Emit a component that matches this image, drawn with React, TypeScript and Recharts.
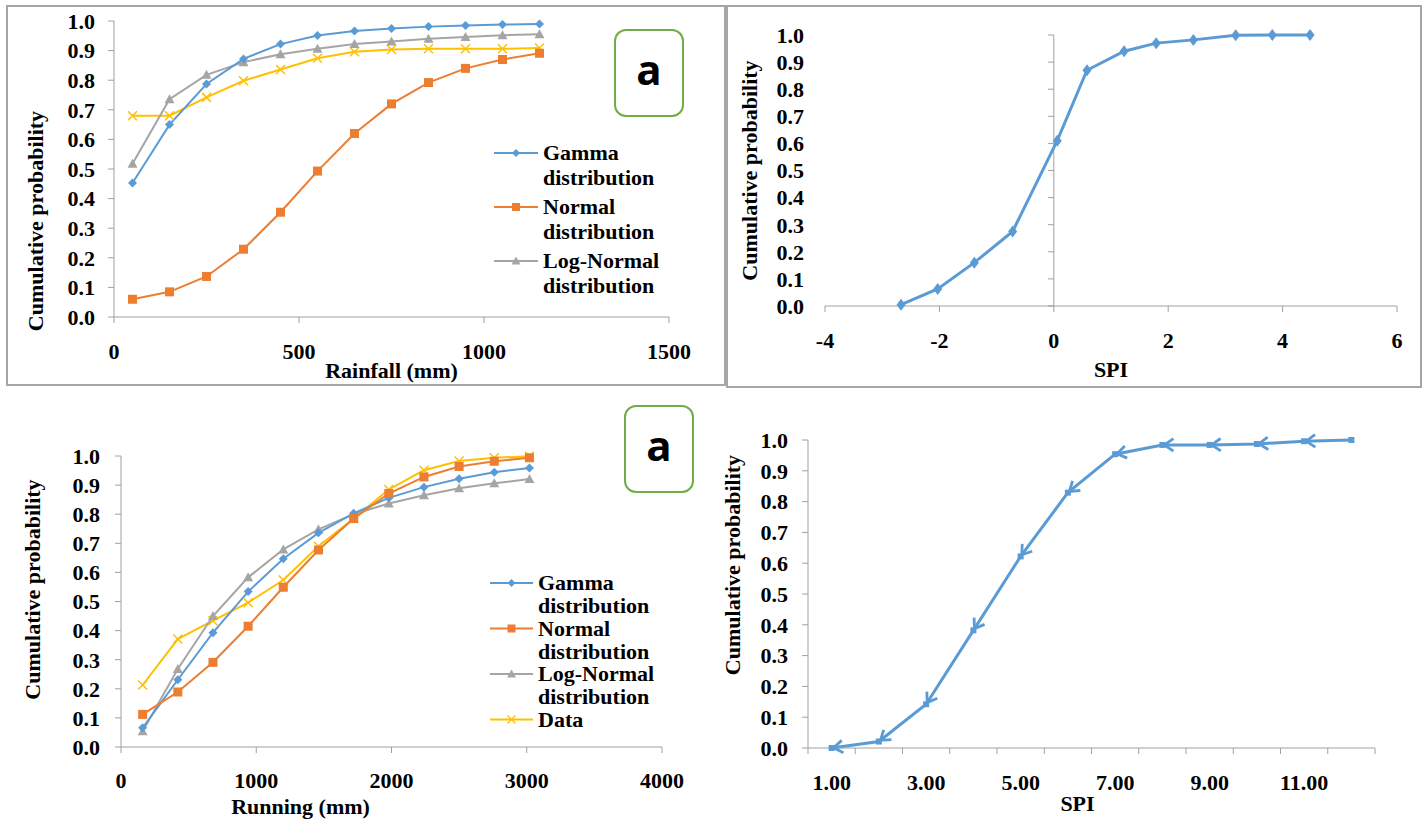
import { LineChart, Line, XAxis, YAxis, Legend, ReferenceLine } from 'recharts'

const FONT = "'Liberation Serif', 'Times New Roman', serif"
const AXIS = '#a0a0a0'
const BLUE = '#5b9bd5'
const ORANGE = '#ed7d31'
const GRAY = '#a5a5a5'
const YELLOW = '#ffc000'

// panel 1 (top left): rainfall
const rainfall = [50, 150, 250, 350, 450, 550, 650, 750, 850, 950, 1050, 1150]
const gammaRain = [0.453, 0.65, 0.787, 0.872, 0.922, 0.951, 0.966, 0.975, 0.981, 0.985, 0.988, 0.99]
const normalRain = [0.06, 0.085, 0.137, 0.229, 0.354, 0.493, 0.62, 0.72, 0.792, 0.84, 0.87, 0.891]
const logNormalRain = [0.518, 0.736, 0.818, 0.861, 0.888, 0.906, 0.922, 0.931, 0.94, 0.946, 0.952, 0.955]
const dataRain = [0.68, 0.68, 0.742, 0.798, 0.836, 0.874, 0.896, 0.904, 0.906, 0.906, 0.906, 0.909]
const rainTicks = [0, 500, 1000, 1500]

// panel 2 (top right): SPI
const spiTop = [-2.67, -2.03, -1.39, -0.72, 0.06, 0.58, 1.23, 1.79, 2.44, 3.18, 3.82, 4.48]
const probTop = [0.005, 0.063, 0.16, 0.275, 0.61, 0.87, 0.94, 0.97, 0.982, 0.999, 1.0, 1.0]
const spiTicks = [-4, -2, 0, 2, 4, 6]

// panel 3 (bottom left): running
const running = [160, 420, 680, 940, 1200, 1460, 1720, 1980, 2240, 2500, 2760, 3020]
const gammaRun = [0.066, 0.231, 0.393, 0.534, 0.647, 0.736, 0.803, 0.856, 0.893, 0.922, 0.944, 0.959]
const normalRun = [0.112, 0.189, 0.291, 0.415, 0.549, 0.677, 0.785, 0.871, 0.928, 0.964, 0.982, 0.994]
const logNormalRun = [0.054, 0.268, 0.45, 0.583, 0.679, 0.748, 0.8, 0.837, 0.865, 0.889, 0.906, 0.921]
const dataRun = [0.213, 0.371, 0.434, 0.496, 0.574, 0.69, 0.785, 0.885, 0.951, 0.983, 0.994, 0.999]
const runTicks = [0, 1000, 2000, 3000, 4000]

// panel 4 (bottom right): SPI categories
const spiCat = [1, 2, 3, 4, 5, 6, 7, 8, 9, 10, 11, 12]
const probBottom = [0.0, 0.021, 0.142, 0.382, 0.622, 0.829, 0.954, 0.984, 0.984, 0.987, 0.996, 1.0]
const catBounds = [0.5, 1.5, 2.5, 3.5, 4.5, 5.5, 6.5, 7.5, 8.5, 9.5, 10.5, 11.5, 12.5]
const catLabels = [1, 3, 5, 7, 9, 11]

const probTicks = [0, 0.1, 0.2, 0.3, 0.4, 0.5, 0.6, 0.7, 0.8, 0.9, 1.0]

const rainRows = rainfall.map((x, i) => ({ x, gamma: gammaRain[i], normal: normalRain[i], logn: logNormalRain[i], data: dataRain[i] }))
const runRows = running.map((x, i) => ({ x, gamma: gammaRun[i], normal: normalRun[i], logn: logNormalRun[i], data: dataRun[i] }))
const spiRows = spiTop.map((x, i) => ({ x, p: probTop[i] }))
const catRows = spiCat.map((x, i) => ({ x, p: probBottom[i] }))
const catTicks = [...catBounds, ...catLabels].sort((a, b) => a - b)

const tickStyle = { fontSize: 22, fontWeight: 700, fill: '#000', fontFamily: FONT }
const titleStyle = { fontSize: 22, fontWeight: 700, fill: '#000', fontFamily: FONT }

type Kind = 'diamond' | 'square' | 'triangle' | 'cross'

function mark(kind: Kind, cx: number, cy: number, color: string, s = 4.5) {
  if (kind === 'diamond') return <path d={`M${cx},${cy - s}L${cx + s},${cy}L${cx},${cy + s}L${cx - s},${cy}Z`} fill={color} />
  if (kind === 'square') return <rect x={cx - s} y={cy - s} width={2 * s} height={2 * s} fill={color} />
  if (kind === 'triangle') return <path d={`M${cx},${cy - s - 0.5}L${cx + s + 0.5},${cy + s - 0.5}L${cx - s - 0.5},${cy + s - 0.5}Z`} fill={color} />
  return (
    <g stroke={color} strokeWidth={1.5}>
      <line x1={cx - s} y1={cy - s} x2={cx + s} y2={cy + s} />
      <line x1={cx - s} y1={cy + s} x2={cx + s} y2={cy - s} />
    </g>
  )
}

const dotOf = (kind: Kind, color: string) => (p: any) => {
  if (p.cx == null || p.cy == null) return <g key={p.index} />
  return <g key={p.index}>{mark(kind, p.cx, p.cy, color)}</g>
}

const spiDot = (p: any) => {
  const { cx, cy, index } = p
  if (cx == null || cy == null) return <g key={index} />
  return <path key={index} d={`M${cx},${cy - 6}L${cx + 4.5},${cy}L${cx},${cy + 6}L${cx - 4.5},${cy}Z`} fill={BLUE} />
}

// square + chevron pointing back at the point (Excel arrow style)
const arrowDot = (p: any) => {
  const { cx, cy, index, points } = p
  if (cx == null || cy == null) return <g key={index} />
  const nxt = points && points[index + 1]
  let arrow = null
  if (!points || nxt) {
    let dx = 1, dy = 0
    if (nxt) {
      const len = Math.hypot(nxt.x - cx, nxt.y - cy) || 1
      dx = (nxt.x - cx) / len
      dy = (nxt.y - cy) / len
    }
    const tx = cx + dx * 2, ty = cy + dy * 2
    const a = 0.6, L = 11
    const r1x = dx * Math.cos(a) - dy * Math.sin(a), r1y = dx * Math.sin(a) + dy * Math.cos(a)
    const r2x = dx * Math.cos(-a) - dy * Math.sin(-a), r2y = dx * Math.sin(-a) + dy * Math.cos(-a)
    arrow = <path d={`M${tx + r1x * L},${ty + r1y * L}L${tx},${ty}L${tx + r2x * L},${ty + r2y * L}`} fill="none" stroke={BLUE} strokeWidth={2.8} />
  }
  return (
    <g key={index}>
      <rect x={cx - 3} y={cy - 3} width={6} height={6} fill={BLUE} />
      {arrow}
    </g>
  )
}

const yTitle = (dx: number, dy: number) => (props: any) => {
  const vb = props.viewBox
  const x = vb.x + dx
  const y = vb.y + vb.height / 2 + dy
  return <text x={x} y={y} transform={`rotate(-90 ${x} ${y})`} textAnchor="middle" dominantBaseline="central" style={titleStyle}>Cumulative probability</text>
}

const xTitle = (label: string, dx: number, dy: number) => (props: any) => {
  const vb = props.viewBox
  return <text x={vb.x + vb.width / 2 + dx} y={vb.y + dy} textAnchor="middle" dominantBaseline="central" style={titleStyle}>{label}</text>
}

const CatTick = (p: any) => {
  const { x, y, payload } = p
  const v = payload.value
  if (Number.isInteger(v)) {
    return <text x={x} y={y + 34} textAnchor="middle" dominantBaseline="central" style={tickStyle}>{v.toFixed(2)}</text>
  }
  return <line x1={x} x2={x} y1={y} y2={y + 6} stroke={AXIS} />
}

interface LegItem { lines: string[]; kind: Kind; color: string }

const rainLegend: LegItem[] = [
  { lines: ['Gamma', 'distribution'], kind: 'diamond', color: BLUE },
  { lines: ['Normal', 'distribution'], kind: 'square', color: ORANGE },
  { lines: ['Log-Normal', 'distribution'], kind: 'triangle', color: GRAY },
]
const runLegend: LegItem[] = [
  { lines: ['Gamma', 'distribution'], kind: 'diamond', color: BLUE },
  { lines: ['Normal', 'distribution'], kind: 'square', color: ORANGE },
  { lines: ['Log-Normal', 'distribution'], kind: 'triangle', color: GRAY },
  { lines: ['Data'], kind: 'cross', color: YELLOW },
]

function MarkerLegend({ items, gap, lineEnd, lead }: { items: LegItem[]; gap: number; lineEnd: number; lead: number }) {
  return (
    <svg width={230} height={gap * items.length + 40} style={{ overflow: 'visible' }}>
      {items.map((it, i) => {
        const cy = 22 + i * gap
        const tx = lineEnd + 5
        return (
          <g key={i}>
            <line x1={4} x2={lineEnd} y1={cy} y2={cy} stroke={it.color} strokeWidth={2} />
            {mark(it.kind, (4 + lineEnd) / 2, cy, it.color, 4)}
            <text style={tickStyle} y={cy + 7}>
              {it.lines.map((l, j) => <tspan key={j} x={tx} dy={j === 0 ? 0 : lead}>{l}</tspan>)}
            </text>
          </g>
        )
      })}
    </svg>
  )
}

const aBox = (left: number, top: number) => (
  <div style={{
    position: 'absolute', left, top, width: 66, height: 84, border: '2px solid #70ad47', borderRadius: 12,
    display: 'flex', alignItems: 'center', justifyContent: 'center', background: '#fff',
    fontFamily: "'Open Sans', 'Liberation Sans', sans-serif", fontWeight: 700, fontSize: 42, color: '#000',
  }}>
    <span style={{ marginTop: -10 }}>a</span>
  </div>
)

export default function App() {
  return (
    <div style={{ position: 'absolute', left: 0, top: 0, width: 1422, height: 822, background: '#fff', overflow: 'hidden' }}>
      <div style={{ position: 'absolute', left: 6, top: 5, width: 716, height: 377, border: '2px solid #a6a6a6' }} />
      <div style={{ position: 'absolute', left: 726, top: 5, width: 692, height: 379, border: '2px solid #a6a6a6' }} />

      {/* top left */}
      <div style={{ position: 'absolute', left: 0, top: 0 }}>
        <LineChart width={724} height={390} data={rainRows} margin={{ top: 21, right: 55, left: 0, bottom: 0 }}>
          <XAxis dataKey="x" type="number" domain={[0, 1500]} ticks={rainTicks} interval={0} height={73}
            stroke={AXIS} tickSize={6} tickMargin={20} tick={tickStyle} label={xTitle('Rainfall (mm)', 0, 53)} />
          <YAxis type="number" domain={[0, 1]} ticks={probTicks} interval={0} width={114} stroke={AXIS}
            tickSize={6} tickMargin={13} tick={tickStyle} tickFormatter={(v: number) => v.toFixed(1)} label={yTitle(35, 52)} />
          <Line dataKey="data" stroke={YELLOW} strokeWidth={2} dot={dotOf('cross', YELLOW)} legendType="none" isAnimationActive={false} />
          <Line dataKey="logn" stroke={GRAY} strokeWidth={2} dot={dotOf('triangle', GRAY)} isAnimationActive={false} />
          <Line dataKey="gamma" stroke={BLUE} strokeWidth={2} dot={dotOf('diamond', BLUE)} isAnimationActive={false} />
          <Line dataKey="normal" stroke={ORANGE} strokeWidth={2} dot={dotOf('square', ORANGE)} isAnimationActive={false} />
          <Legend layout="vertical" align="center" verticalAlign="middle"
            wrapperStyle={{ left: 490, top: 131, width: 230, height: 200 }}
            content={() => <MarkerLegend items={rainLegend} gap={54} lineEnd={48} lead={25} />} />
        </LineChart>
      </div>
      {aBox(614, 29)}

      {/* top right */}
      <div style={{ position: 'absolute', left: 727, top: 0 }}>
        <LineChart width={693} height={390} data={spiRows} margin={{ top: 35, right: 23, left: 0, bottom: 0 }}>
          <XAxis dataKey="x" type="number" domain={[-4, 6]} ticks={spiTicks} interval={0} height={84}
            stroke={AXIS} tickSize={6} tickMargin={20} tick={tickStyle} label={xTitle('SPI', 0, 63)} />
          <YAxis type="number" domain={[0, 1]} ticks={probTicks} interval={0} width={98} axisLine={false} tickLine={false}
            tickSize={6} tickMargin={15} tick={tickStyle} tickFormatter={(v: number) => v.toFixed(1)} label={yTitle(22, 0)} />
          <ReferenceLine x={0} stroke={AXIS} />
          {probTicks.map(t => (
            <ReferenceLine key={t} segment={[{ x: -0.1, y: t }, { x: 0, y: t }]} stroke={AXIS} />
          ))}
          <Line dataKey="p" stroke={BLUE} strokeWidth={3} dot={spiDot} isAnimationActive={false} />
        </LineChart>
      </div>

      {/* bottom left */}
      <div style={{ position: 'absolute', left: 0, top: 400 }}>
        <LineChart width={700} height={422} data={runRows} margin={{ top: 56, right: 38, left: 0, bottom: 0 }}>
          <XAxis dataKey="x" type="number" domain={[0, 4000]} ticks={runTicks} interval={0} height={75}
            stroke={AXIS} tickSize={6} tickMargin={19} tick={tickStyle} label={xTitle('Running (mm)', -91, 59)} />
          <YAxis type="number" domain={[0, 1]} ticks={probTicks} interval={0} width={121} stroke={AXIS}
            tickSize={6} tickMargin={15} tick={tickStyle} tickFormatter={(v: number) => v.toFixed(1)} label={yTitle(32, -12)} />
          <Line dataKey="data" stroke={YELLOW} strokeWidth={2} dot={dotOf('cross', YELLOW)} isAnimationActive={false} />
          <Line dataKey="logn" stroke={GRAY} strokeWidth={2} dot={dotOf('triangle', GRAY)} isAnimationActive={false} />
          <Line dataKey="gamma" stroke={BLUE} strokeWidth={2} dot={dotOf('diamond', BLUE)} isAnimationActive={false} />
          <Line dataKey="normal" stroke={ORANGE} strokeWidth={2} dot={dotOf('square', ORANGE)} isAnimationActive={false} />
          <Legend layout="vertical" align="center" verticalAlign="middle"
            wrapperStyle={{ left: 486, top: 161, width: 230, height: 220 }}
            content={() => <MarkerLegend items={runLegend} gap={45.5} lineEnd={47} lead={23} />} />
        </LineChart>
      </div>
      {aBox(624, 405)}

      {/* bottom right */}
      <div style={{ position: 'absolute', left: 700, top: 400 }}>
        <LineChart width={722} height={422} data={catRows} margin={{ top: 40, right: 47, left: 0, bottom: 0 }}>
          <XAxis dataKey="x" type="number" domain={[0.5, 12.5]} ticks={catTicks} interval={0} height={74}
            stroke={AXIS} tickLine={false} tickSize={0} tickMargin={0} tick={<CatTick />} label={xTitle('SPI', -14, 55)} />
          <YAxis type="number" domain={[0, 1]} ticks={probTicks} interval={0} width={108} stroke={AXIS}
            tickSize={6} tickMargin={14} tick={tickStyle} tickFormatter={(v: number) => v.toFixed(1)} label={yTitle(32, -29)} />
          <Line dataKey="p" stroke={BLUE} strokeWidth={3} dot={arrowDot} isAnimationActive={false} />
        </LineChart>
      </div>
    </div>
  )
}
